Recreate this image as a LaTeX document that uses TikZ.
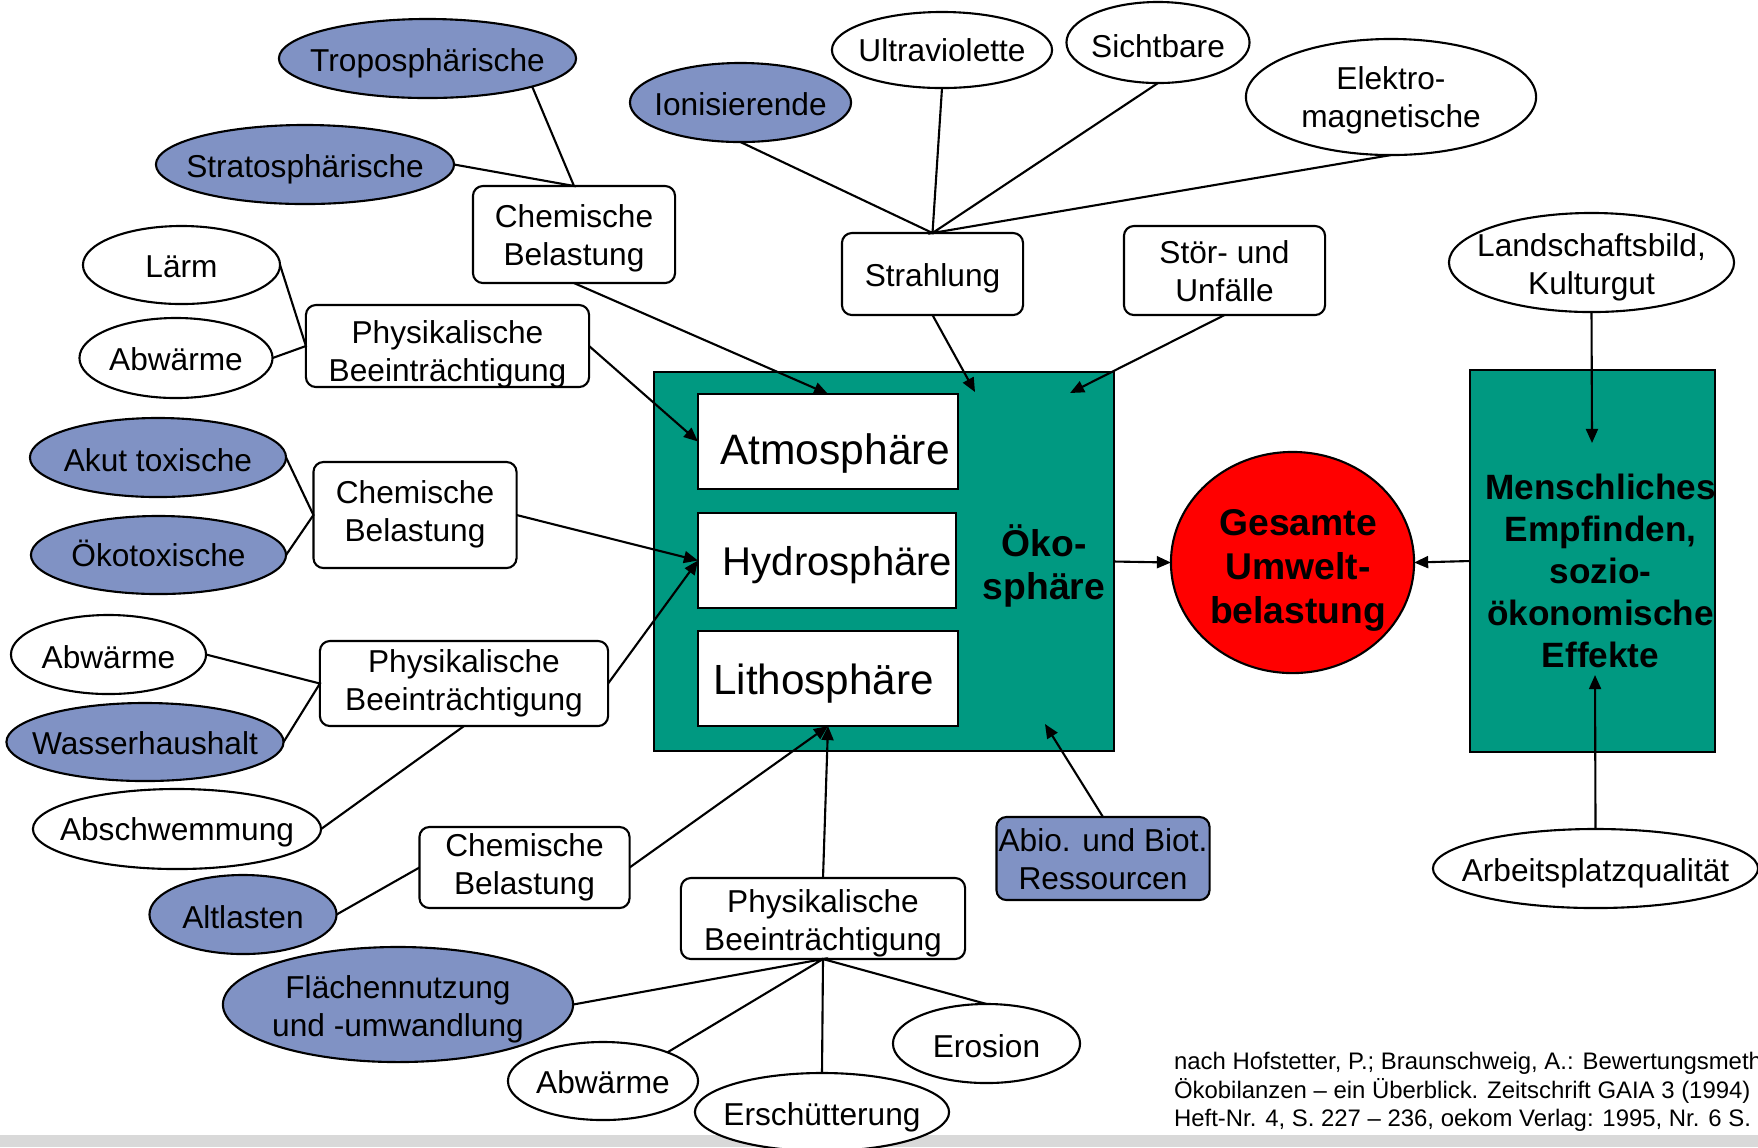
\documentclass[tikz,border=0pt]{standalone}
\usepackage{fontspec}
\setmainfont{Liberation Sans}
\usetikzlibrary{shapes,arrows.meta}
\definecolor{graublau}{RGB}{128,146,196}
\definecolor{petrol}{RGB}{0,153,129}
\definecolor{hellgrau}{RGB}{217,217,217}
\tikzstyle{oval} = [ellipse, draw=black, fill=white, inner sep=-0.5cm, outer sep=0pt, align=center]
\tikzstyle{boval} = [oval, fill=graublau]
\tikzstyle{r} = [rectangle, rounded corners=0.1cm, draw=black, fill=white, inner sep=0pt, outer sep=0pt, align=center]
\tikzstyle{sph} = [rectangle, draw=black, fill=white, inner sep=0pt, outer sep=0pt, minimum width=2.6cm, minimum height=0.95cm]
\tikzstyle{pfeil} = [-{Triangle[length=4pt,width=3.4pt]}]
% Text etwas tiefer setzen, ohne die Knotengroesse zu aendern
\newcommand{\beschrift}[2][-1.4pt]{\raisebox{#1}[\height][\depth]{\begin{tabular}{@{}c@{}}#2\end{tabular}}}

\begin{document}
\begin{tikzpicture}[x=0.01cm, y=-0.01cm, line width=0.6pt, font=\fontsize{9}{10.8}\selectfont]
		\useasboundingbox (0,0) rectangle (1758,1147);
		\fill[hellgrau] (0,1135) rectangle (1758,1147);
		
		% Oekosphaere
		\node[rectangle, draw=black, fill=petrol, minimum width=4.6cm, minimum height=3.79cm, inner sep=0pt, outer sep=0pt](oeko) at (884,561.5){};
		\node[sph, font=\fontsize{12.1}{14}\selectfont](atmo) at (828,441.5){\hspace*{4pt}\beschrift[-3.8pt]{Atmosphäre}};
		\node[sph, minimum width=2.58cm, font=\fontsize{11.4}{14}\selectfont](hydro) at (827,560.5){\hspace*{6pt}\beschrift[-1.4pt]{Hydrosphäre}};
		\node[sph, font=\fontsize{12}{14}\selectfont](litho) at (828,678.5){\hspace*{-2.6pt}\beschrift[-1.6pt]{Lithosphäre}};
		\node[align=center, font=\fontsize{10.6}{12.2}\selectfont\bfseries](oekotxt) at (1044,566){Öko-\\sphäre};
		
		\node[oval, fill=red, font=\fontsize{10.6}{12.5}\selectfont\bfseries, minimum width=2.43cm, minimum height=2.21cm](gesamt) at (1292.5,562.5){\hspace*{3.2pt}\beschrift[-2.4pt]{Gesamte\\Umwelt-\\belastung}};
		\node[rectangle, draw=black, fill=petrol, inner ysep=0pt, inner xsep=-1pt, outer sep=0pt, minimum width=2.45cm, minimum height=3.82cm, font=\fontsize{10}{12}\selectfont\bfseries](mensch) at (1592.5,561){\hspace*{4.6pt}\beschrift[-4pt]{Menschliches\\Empfinden,\\sozio-\\ökonomische\\Effekte}};
		
		% oben links
		\node[boval, minimum width=2.97cm, minimum height=0.79cm](tropo) at (427.5,58.5){\beschrift[-1.6pt]{Troposphärische}};
		\node[boval, minimum width=2.98cm, minimum height=0.79cm](strato) at (305,164.5){\beschrift[-1.6pt]{Stratosphärische}};
		\node[r, minimum width=2.02cm, minimum height=0.97cm](chem1) at (574,234.5){\beschrift[-1.3pt]{Chemische\\Belastung}};
		\node[oval, minimum width=1.97cm, minimum height=0.78cm](laerm) at (181.5,265){\beschrift{Lärm}};
		\node[oval, minimum width=1.93cm, minimum height=0.8cm](abw1) at (176,358){\beschrift{Abwärme}};
		\node[r, minimum width=2.83cm, minimum height=0.82cm](phys1) at (447.5,346){\beschrift[-2.4pt]{Physikalische\\Beeinträchtigung}};
		
		% Strahlung
		\node[boval, minimum width=2.21cm, minimum height=0.79cm](ionis) at (740.5,102.5){\beschrift{Ionisierende}};
		\node[oval, minimum width=2.2cm, minimum height=0.76cm](uv) at (942,50){\beschrift[-1.1pt]{Ultraviolette}};
		\node[oval, minimum width=1.83cm, minimum height=0.81cm](sicht) at (1158,42.5){\beschrift[-2.2pt]{Sichtbare}};
		\node[oval, minimum width=2.9cm, minimum height=1.16cm](elektro) at (1391,97){\beschrift[-1.2pt]{Elektro-\\magnetische}};
		\node[r, minimum width=1.81cm, minimum height=0.82cm](strahl) at (932.5,274){\beschrift[-1.3pt]{Strahlung}};
		\node[r, minimum width=2.01cm, minimum height=0.89cm](stoer) at (1224.5,270.5){\beschrift[-1.3pt]{Stör- und\\Unfälle}};
		\node[oval, minimum width=2.85cm, minimum height=0.99cm](landsch) at (1591.5,262.5){\beschrift[-1.5pt]{Landschaftsbild,\\Kulturgut}};
		
		% links
		\node[boval, minimum width=2.56cm, minimum height=0.79cm](akut) at (158,457.5){\beschrift[-1.8pt]{Akut toxische}};
		\node[boval, minimum width=2.55cm, minimum height=0.78cm](oekotox) at (158.5,555){\beschrift[-1.05pt]{Ökotoxische}};
		\node[r, minimum width=2.03cm, minimum height=1.06cm](chem2) at (415,515){\beschrift[0pt]{Chemische\\Belastung}};
		\node[oval, minimum width=1.95cm, minimum height=0.79cm](abw2) at (108.5,654.5){\beschrift[-1.8pt]{Abwärme}};
		\node[boval, minimum width=2.77cm, minimum height=0.78cm](wasser) at (145,742){\beschrift{Wasserhaushalt}};
		\node[r, minimum width=2.88cm, minimum height=0.85cm](phys2) at (464,683.5){\beschrift[-0.2pt]{Physikalische\\Beeinträchtigung}};
		\node[oval, minimum width=2.88cm, minimum height=0.8cm](abschw) at (177,829){\beschrift[-1.2pt]{Abschwemmung}};
		
		% unten
		\node[r, minimum width=2.1cm, minimum height=0.81cm](chem3) at (524.5,867.5){\beschrift[-0.2pt]{Chemische\\Belastung}};
		\node[boval, minimum width=1.87cm, minimum height=0.79cm](altl) at (243,914.5){\beschrift[-1.8pt]{Altlasten}};
		\node[r, minimum width=2.84cm, minimum height=0.81cm](phys3) at (823,918.5){\beschrift[-1.6pt]{Physikalische\\Beeinträchtigung}};
		\node[boval, minimum width=3.5cm, minimum height=1.15cm](flaeche) at (398,1004.5){\beschrift[-1.5pt]{Flächennutzung\\und -umwandlung}};
		\node[oval, minimum width=1.9cm, minimum height=0.78cm](abw3) at (603,1081){\beschrift{Abwärme}};
		\node[oval, minimum width=2.54cm, minimum height=0.78cm](ersch) at (822,1112){\beschrift[-1.6pt]{Erschütterung}};
		\node[oval, minimum width=1.87cm, minimum height=0.79cm](erosion) at (986.5,1043.5){\beschrift[-1.8pt]{Erosion}};
		\node[r, fill=graublau, minimum width=2.13cm, minimum height=0.83cm](abio) at (1103,858.5){\beschrift[-1.3pt]{Abio. und Biot.\\Ressourcen}};
		\node[oval, minimum width=3.25cm, minimum height=0.79cm](arbeit) at (1595.5,868.5){\beschrift[-1.6pt]{Arbeitsplatzqualität}};
		
		\node[anchor=north west, align=left, inner sep=0pt, font=\fontsize{6.8}{8.1}\selectfont](quelle) at (1173,1051.5){nach Hofstetter, P.; Braunschweig, A.: Bewertungsmeth\\Ökobilanzen – ein Überblick. Zeitschrift GAIA 3 (1994)\\Heft-Nr. 4, S. 227 – 236, oekom Verlag: 1995, Nr. 6 S.};
		
		\coordinate (ziel1) at (975,392);
		\coordinate (ziel2) at (1070,393);
		\coordinate (ziel3) at (1045,724);
		\coordinate (ziel4) at (1592,443);
		\coordinate (ziel5) at (1595,675);
		
		\draw (tropo.-15)--(chem1.north)--(strato.east);
		\draw (laerm.east)--(phys1.west)--(abw1.east);
		\draw (ionis.south)--(strahl.north)--(uv.south);
		\draw (sicht.south)--(strahl.north)--(elektro.south);
		\draw (akut.east)--(chem2.west)--(oekotox.east);
		\draw (abw2.east)--(phys2.west)--(wasser.east);
		\draw (abschw.east)--(phys2.south);
		\draw (altl.east)--(chem3.west);
		\draw (flaeche.east)--(phys3.south)--(abw3.24);
		\draw (ersch.north)--(phys3.south)--(erosion.north);
		
		\draw[pfeil] (chem1.south)--(atmo.north);
		\draw[pfeil] (phys1.east)--(atmo.west);
		\draw[pfeil] (strahl.south)--(ziel1);
		\draw[pfeil] (stoer.south)--(ziel2);
		\draw[pfeil] (chem2.east)--(hydro.west);
		\draw[pfeil] (phys2.east)--(hydro.west);
		\draw[pfeil] (chem3.east)--(litho.south);
		\draw[pfeil] (phys3.north)--(litho.south);
		\draw[pfeil] (abio.north)--(ziel3);
		\draw[pfeil] (oeko.east)--(gesamt.west);
		\draw[pfeil] (mensch.west)--(gesamt.east);
		\draw[pfeil] (landsch.south)--(ziel4);
		\draw[pfeil] (arbeit.north)--(ziel5);
		\end{tikzpicture}
\end{document}
